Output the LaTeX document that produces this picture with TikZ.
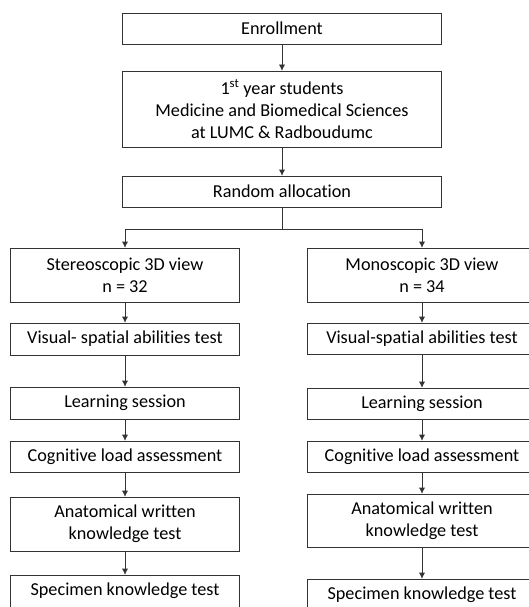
\documentclass[tikz,border=0pt]{standalone}
\usepackage{fontspec}
\setmainfont{Carlito}[Ligatures=NoCommon]
\usepackage{tikz}
\usetikzlibrary{positioning}
\usetikzlibrary{arrows,arrows.meta,shapes}
\usetikzlibrary{calc}
\tikzstyle{stepbox}=[rectangle,draw=black!80,line width=0.6pt,fill=white,align=center,inner sep=0pt,font=\fontsize{18.2}{22}\selectfont]
\tikzstyle{topbox}=[stepbox,minimum width=319pt]
\tikzstyle{armbox}=[stepbox,minimum width=229pt]
\tikzstyle{edge} = [draw,black!80,line width=0.6pt,-{Latex[length=6pt,width=6pt]}]
\tikzstyle{undirectededge} = [draw,black!80,line width=0.6pt]

\begin{document}
\begin{tikzpicture}[x=1pt,y=-1pt]
    \useasboundingbox (0,0) rectangle (529,607);
    \clip (0,0) rectangle (529,607);

     \foreach \pos/\name/\label/\h in {{(282,28.5)/enroll/Enrollment/31}, {(282,109)/students/{1\textsuperscript{st} year students\\Medicine and Biomedical Sciences\\at LUMC \& Radboudumc}/76}, {(282,191.5)/alloc/Random allocation/31}}
        \node[topbox,minimum height=\h pt] (\name) at \pos {\label};

     \foreach \pos/\name/\label/\h in {{(125,275)/stereo/{Stereoscopic 3D view\\n = 32}/54}, {(125,339)/lvisual/Visual- spatial abilities test/32}, {(125,403)/llearn/Learning session/32}, {(125,456.5)/lcog/Cognitive load assessment/31}, {(125,524)/lanat/{Anatomical written\\knowledge test}/54}, {(125,591)/lspec/Specimen knowledge test/32}}
        \node[armbox,minimum height=\h pt] (\name) at \pos {\label};

     \foreach \pos/\name/\label/\h in {{(422,275)/mono/{Monoscopic 3D view\\n = 34}/54}, {(422,338.5)/rvisual/Visual-spatial abilities test/31}, {(422,403.5)/rlearn/Learning session/31}, {(422,456.5)/rcog/Cognitive load assessment/31}, {(422,520.5)/ranat/{Anatomical written\\knowledge test}/53}, {(422,595)/rspec/Specimen knowledge test/32}}
        \node[armbox,minimum height=\h pt] (\name) at \pos {\label};

    \coordinate (split) at (282,229);

  \foreach \source/ \dest in {enroll/students, students/alloc, stereo/lvisual, lvisual/llearn, llearn/lcog, lcog/lanat, lanat/lspec, mono/rvisual, rvisual/rlearn, rlearn/rcog, rcog/ranat, ranat/rspec}
        \path[edge] (\source) -- (\dest);

    \path[undirectededge] (alloc) -- (split);
    \foreach \dest in {stereo, mono}
        \path[edge] (split) -| (\dest);

    \end{tikzpicture}
\end{document}
